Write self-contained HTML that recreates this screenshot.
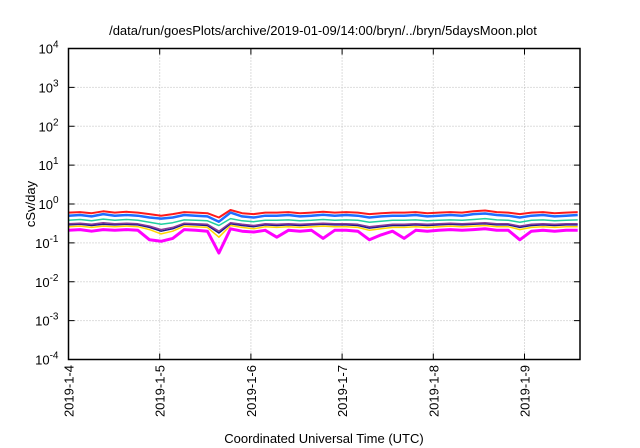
<!DOCTYPE html>
<html><head><meta charset="utf-8"><style>
body{margin:0;background:#fff}
svg{display:block;font-family:"Liberation Sans",sans-serif}
</style></head><body>
<svg id="chart" width="640" height="448">
<rect width="640" height="448" fill="#fff"/>
<text x="323" y="35" font-size="13" text-anchor="middle">/data/run/goesPlots/archive/2019-01-09/14:00/bryn/../bryn/5daysMoon.plot</text>
<text transform="translate(35,204) rotate(-90)" font-size="13" text-anchor="middle">cSv/day</text>
<text x="324" y="443" font-size="13" text-anchor="middle">Coordinated Universal Time (UTC)</text>
<g id="grid"></g><g id="series"></g><g id="axes"></g>
</svg>
<script>
const yExps=[-4,-3,-2,-1,0,1,2,3,4];
const xTickLabels=["2019-1-4","2019-1-5","2019-1-6","2019-1-7","2019-1-8","2019-1-9"];
const stepHours=134/44;
const red=[0.6,0.62,0.58,0.65,0.6,0.63,0.6,0.55,0.5,0.55,0.62,0.6,0.58,0.45,0.7,0.58,0.55,0.6,0.6,0.62,0.58,0.6,0.63,0.6,0.62,0.6,0.55,0.58,0.6,0.6,0.62,0.58,0.6,0.62,0.6,0.65,0.68,0.62,0.6,0.55,0.6,0.62,0.58,0.6,0.62];
const blue=[0.5,0.52,0.48,0.55,0.5,0.52,0.5,0.45,0.42,0.45,0.52,0.5,0.48,0.35,0.6,0.48,0.45,0.5,0.5,0.52,0.48,0.5,0.53,0.5,0.52,0.5,0.45,0.48,0.5,0.5,0.52,0.48,0.5,0.52,0.5,0.55,0.57,0.52,0.5,0.45,0.5,0.52,0.48,0.5,0.52];
const teal=[0.38,0.4,0.37,0.41,0.38,0.4,0.38,0.34,0.3,0.33,0.39,0.38,0.37,0.28,0.42,0.37,0.35,0.38,0.38,0.39,0.37,0.38,0.4,0.38,0.39,0.38,0.34,0.36,0.38,0.38,0.39,0.37,0.38,0.39,0.38,0.4,0.42,0.39,0.38,0.34,0.38,0.39,0.37,0.38,0.39];
const purple=[0.31,0.32,0.3,0.33,0.31,0.32,0.31,0.27,0.22,0.25,0.32,0.31,0.3,0.2,0.33,0.3,0.28,0.31,0.3,0.31,0.3,0.31,0.32,0.31,0.31,0.3,0.26,0.28,0.3,0.3,0.31,0.3,0.31,0.32,0.31,0.32,0.33,0.31,0.31,0.27,0.3,0.31,0.3,0.31,0.31];
const navy=[0.29,0.3,0.28,0.3,0.29,0.3,0.29,0.25,0.2,0.23,0.3,0.29,0.28,0.18,0.31,0.28,0.26,0.29,0.28,0.29,0.28,0.29,0.3,0.29,0.29,0.28,0.24,0.26,0.28,0.28,0.29,0.28,0.29,0.3,0.29,0.3,0.31,0.29,0.29,0.25,0.28,0.29,0.28,0.29,0.29];
const yellow=[0.26,0.27,0.25,0.27,0.26,0.27,0.26,0.22,0.17,0.2,0.27,0.26,0.25,0.14,0.28,0.25,0.23,0.26,0.25,0.26,0.25,0.26,0.27,0.26,0.26,0.25,0.21,0.23,0.25,0.25,0.26,0.25,0.26,0.27,0.26,0.27,0.28,0.26,0.26,0.22,0.25,0.26,0.25,0.26,0.26];
const magenta=[0.21,0.22,0.2,0.22,0.21,0.22,0.21,0.12,0.11,0.13,0.22,0.21,0.2,0.055,0.23,0.2,0.19,0.21,0.14,0.21,0.2,0.21,0.13,0.21,0.21,0.2,0.12,0.16,0.2,0.13,0.21,0.2,0.21,0.22,0.21,0.22,0.23,0.21,0.21,0.12,0.2,0.21,0.2,0.21,0.21];
const seriesList=[["magenta",magenta,"#ff00ff",3],["yellow",yellow,"#ffd700",1.5],["navy",navy,"#1a1a8c",1.5],["purple",purple,"#8a3a9a",1.5],["teal",teal,"#20d0a0",1.5],["blue",blue,"#1e6eff",2.5],["red",red,"#ff1a1a",2]];
const L=68.5,R=580,T=48.5,B=359.5,dayW=91.2;
const X=h=>L+h/24*dayW;
const Y=v=>B-(Math.log10(v)+4)*(B-T)/8;
const ns="http://www.w3.org/2000/svg";
function mk(tag,attrs,parent){const e=document.createElementNS(ns,tag);for(const k in attrs)e.setAttribute(k,attrs[k]);parent.appendChild(e);return e;}
const grid=document.getElementById('grid'),axes=document.getElementById('axes'),sg=document.getElementById('series');
yExps.forEach((e,i)=>{const y=Y(Math.pow(10,e));
 if(e>-4&&e<4){const l=mk('line',{x1:L,x2:R,y1:y,y2:y,stroke:'#bbb','stroke-dasharray':'1,2'},grid);}
 const t=mk('text',{x:L-10,y:y+5,'font-size':13,'text-anchor':'end'},axes);
 
 t.innerHTML='10<tspan dy="-6" font-size="10">'+e+'</tspan>';
 mk('line',{x1:L,x2:L+6,y1:y,y2:y,stroke:'#000'},axes);mk('line',{x1:R,x2:R-6,y1:y,y2:y,stroke:'#000'},axes);
});
xTickLabels.forEach((lab,i)=>{const x=X(i*24);
 if(i>0){const l=mk('line',{x1:x,x2:x,y1:T,y2:B,stroke:'#bbb','stroke-dasharray':'1,2'},grid);}
 mk('line',{x1:x,x2:x,y1:B,y2:B-6,stroke:'#000'},axes);mk('line',{x1:x,x2:x,y1:T,y2:T+6,stroke:'#000'},axes);
 const t=mk('text',{transform:`translate(${x+5},365) rotate(-90)`,'font-size':13,'text-anchor':'end'},axes);
 t.textContent=lab;
});
const fr=mk('rect',{x:L,y:T,width:R-L,height:B-T,fill:'none',stroke:'#000','stroke-width':1.5},axes);

seriesList.forEach(([name,vals,col,w])=>{
 const d=vals.map((v,i)=>(i?'L':'M')+X(i*stepHours).toFixed(1)+','+Y(v).toFixed(1)).join('');
 const p=mk('path',{d:d,fill:'none',stroke:col,'stroke-width':w,'stroke-linejoin':'round'},sg);
 
});
</script>
</body></html>
